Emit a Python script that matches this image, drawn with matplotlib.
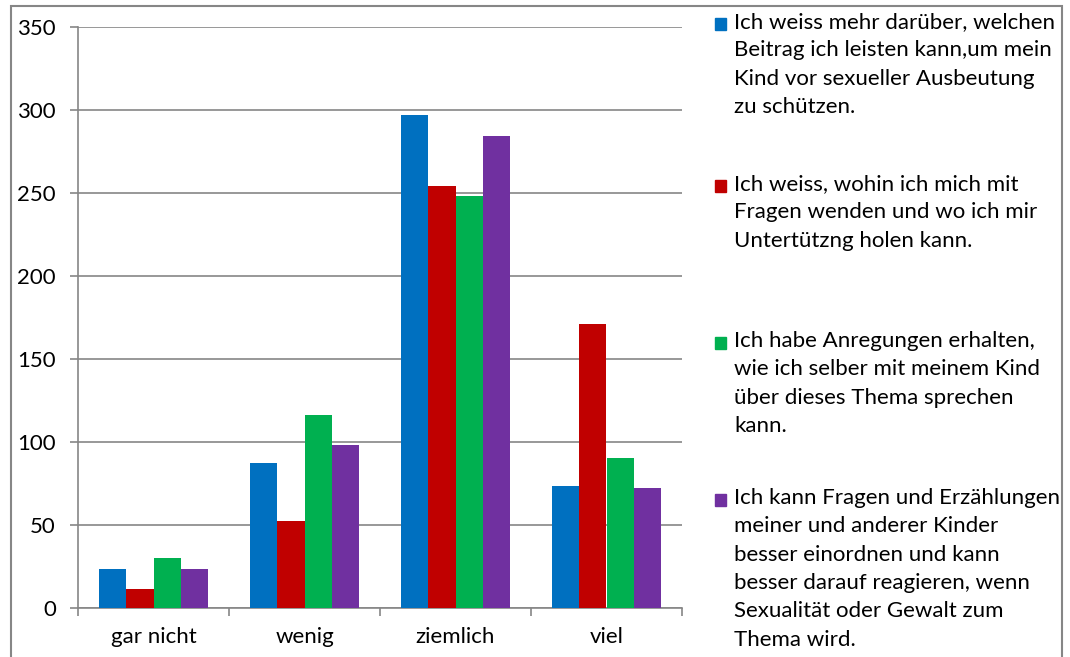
import numpy as np
import matplotlib.pyplot as plt
from matplotlib.patches import Rectangle

categories = ['gar nicht', 'wenig', 'ziemlich', 'viel']
series_labels = [
    'Ich weiss mehr darüber, welchen\nBeitrag ich leisten kann,um mein\nKind vor sexueller Ausbeutung\nzu schützen.',
    'Ich weiss, wohin ich mich mit\nFragen wenden und wo ich mir\nUntertützng holen kann.',
    'Ich habe Anregungen erhalten,\nwie ich selber mit meinem Kind\nüber dieses Thema sprechen\nkann.',
    'Ich kann Fragen und Erzählungen\nmeiner und anderer Kinder\nbesser einordnen und kann\nbesser darauf reagieren, wenn\nSexualität oder Gewalt zum\nThema wird.',
]
values_blue = [23, 87, 297, 73]
values_red = [11, 52, 254, 171]
values_green = [30, 116, 248, 90]
values_purple = [23, 98, 284, 72]
colors = ['#0070C0', '#C00000', '#00B050', '#7030A0']
yticks = [0, 50, 100, 150, 200, 250, 300, 350]

plt.rcParams['font.family'] = ['Lato', 'DejaVu Sans']
grey = '#868686'

fig = plt.figure(figsize=(10.7, 6.57), dpi=100)
ax = fig.add_axes([78 / 1070, 1 - 607.5 / 657, 604 / 1070, 580.5 / 657])

# outer chart border
fig.patches.append(Rectangle((11 / 1070, -0.05), 1051 / 1070, 1 - 6 / 657 + 0.05,
                             transform=fig.transFigure, fill=False,
                             edgecolor=grey, linewidth=1.5))

all_values = [values_blue, values_red, values_green, values_purple]
x = np.arange(len(categories))
width = 0.182
for i, vals in enumerate(all_values):
    ax.bar(x + (i - 1.5) * width, vals, width, color=colors[i], zorder=3)

ax.set_xlim(-0.5, 3.5)
ax.set_ylim(0, 350)
ax.set_yticks(yticks)
ax.set_yticklabels([str(v) for v in yticks], fontsize=16)
ax.yaxis.grid(True, color=grey, linewidth=1.2, zorder=0)

ax.set_xticks(x)
ax.set_xticklabels(categories, fontsize=16)
ax.tick_params(axis='x', length=0, pad=14)
ax.set_xticks(np.arange(-0.5, 4.0, 1.0), minor=True)
ax.tick_params(axis='x', which='minor', length=6, color=grey, width=1.2)
ax.tick_params(axis='y', length=6, color=grey, width=1.2, pad=10)

for side in ['top', 'right']:
    ax.spines[side].set_visible(False)
for side in ['left', 'bottom']:
    ax.spines[side].set_color(grey)
    ax.spines[side].set_linewidth(1.2)

# legend on the right
entry_tops = [12, 174, 331, 488]
for i, label in enumerate(series_labels):
    top = 1 - entry_tops[i] / 657
    fig.patches.append(Rectangle((715 / 1070, top - 18 / 657), 11 / 1070, 12 / 657,
                                 transform=fig.transFigure, color=colors[i]))
    fig.text(734 / 1070, top, label, fontsize=16, va='top', ha='left',
             linespacing=1.52)

fig.savefig('out.png', dpi=100)
